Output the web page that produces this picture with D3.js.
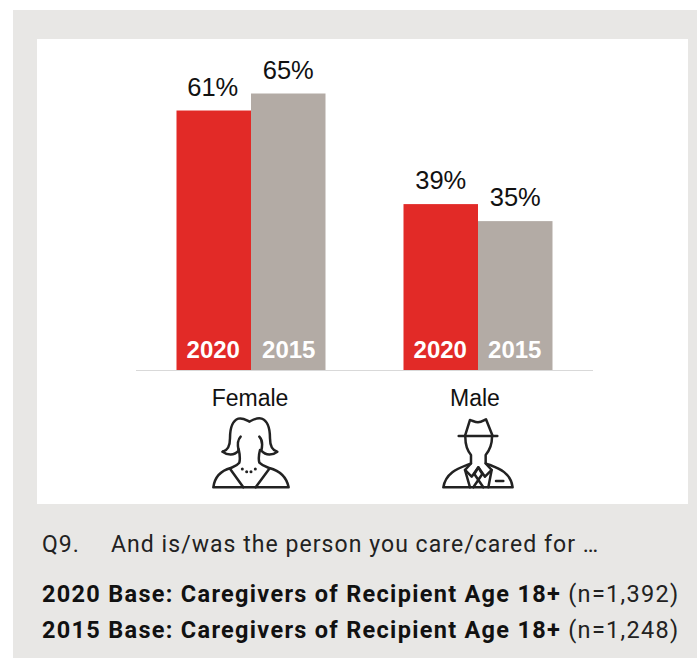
<!DOCTYPE html>
<html>
<head>
<meta charset="utf-8">
<script src="https://d3js.org/d3.v7.min.js"></script>
<style>
html, body { margin: 0; padding: 0; background: #fff; }
svg { display: block; }
.bar-label { font-family: "Liberation Sans", Arial, sans-serif; font-size: 25.5px; fill: #111; text-anchor: middle; }
.year-label { font-family: "Liberation Sans", Arial, sans-serif; font-size: 24px; font-weight: bold; fill: #fff; text-anchor: middle; }
.cat-label { font-family: "Liberation Sans", Arial, sans-serif; font-size: 23px; fill: #111; text-anchor: middle; }
.note { font-family: Roboto, sans-serif; font-size: 23px; fill: #222; letter-spacing: 1.05px; }
.base { font-family: Roboto, sans-serif; font-size: 23.5px; fill: #222; letter-spacing: 1.3px; }
.base tspan.b { font-weight: bold; fill: #111; }
.icon path { fill: none; stroke: #222; stroke-width: 7.5; stroke-linejoin: round; stroke-linecap: round; }
.icon circle { fill: #222; }
</style>
</head>
<body>
<div id="chart"></div>
<script>
// values
var categories = ["Female", "Male"];
var years = ["2020", "2015"];
var values2020 = [61, 39];
var values2015 = [65, 35];
var colors = ["#e22a27", "#b3aba5"];
var question = ["Q9.", "And is/was the person you care/cared for \u2026"];
var bases = [
  ["2020 Base: Caregivers of Recipient Age 18+", " (n=1,392)"],
  ["2015 Base: Caregivers of Recipient Age 18+", " (n=1,248)"]
];

var femaleIcon = [
  "M98,215 C112,212 120,200 120,175 C120,145 128,122 145,116 C158,112 168,120 178,125 C188,120 200,112 215,116 C232,122 240,145 240,175 C240,200 248,212 262,215 C248,226 228,228 214,212 C218,195 218,180 208,170",
  "M98,215 C112,226 132,228 146,212 C142,195 142,180 152,170",
  "M146,208 C150,225 150,240 148,248 C140,258 132,260 122,264 C92,272 74,292 70,322 L296,322 C290,292 268,272 238,264 C228,260 218,258 208,248 C206,240 206,225 210,210",
  "M120,266 L160,322",
  "M238,266 L197,322"
];
var femaleDots = [[157, 267], [170, 275], [183, 275], [196, 267]];
var maleIcon = [
  "M135,168 L150,120 C158,122 165,127 174,127 C183,127 190,122 198,118 L218,168",
  "M116,168 L232,168",
  "M136,172 C136,195 142,212 153,225 L153,250 C125,262 78,272 70,322 L278,322 C272,272 225,262 197,250 L197,225 C208,212 216,195 216,172",
  "M153,250 L135,270 L155,290 L175,262 L195,290 L215,270 L197,250",
  "M135,270 L150,322 M215,270 L205,322",
  "M163,282 L175,262 L187,282 L160,322 M163,282 L190,322",
  "M228,303 L250,303"
];
var maleDots = [];

var width = 697, height = 658;
var svg = d3.select("#chart").append("svg").attr("width", width).attr("height", height);

svg.append("rect").attr("x", 13).attr("y", 10).attr("width", width - 13).attr("height", height - 10).attr("fill", "#e8e7e5");
svg.append("rect").attr("x", 37).attr("y", 39).attr("width", 651).attr("height", 465).attr("fill", "#fff");

// scales
var baseY = 370;
var x0 = d3.scalePoint().domain(categories).range([251, 478]);
var barW = 74.5;
var y = d3.scaleLinear().domain([0, 65]).range([baseY, 93.5]);

var rows = [];
categories.forEach(function(c, i) {
  rows.push({cat: c, year: years[0], v: values2020[i], k: 0});
  rows.push({cat: c, year: years[1], v: values2015[i], k: 1});
});

var bars = svg.selectAll(".g-bar").data(rows).enter().append("g").attr("class", "g-bar");

bars.append("rect")
  .attr("x", function(d) { return x0(d.cat) - barW + d.k * barW; })
  .attr("y", function(d) { return y(d.v); })
  .attr("width", barW)
  .attr("height", function(d) { return baseY - y(d.v); })
  .attr("fill", function(d) { return colors[d.k]; });

bars.append("text").attr("class", "bar-label")
  .attr("x", function(d) { return x0(d.cat) - barW / 2 + d.k * barW - (d.k ? 0 : (d.cat == "Male" ? 0 : 1)); })
  .attr("y", function(d) { return y(d.v) - 15; })
  .text(function(d) { return d.v + "%"; });

bars.append("text").attr("class", "year-label")
  .attr("x", function(d) { return x0(d.cat) - barW / 2 + d.k * barW + (d.cat == "Female" && d.k ? 0.5 : -0.5); })
  .attr("y", 358)
  .text(function(d) { return d.year; });

svg.append("line").attr("x1", 136).attr("x2", 593).attr("y1", baseY + 0.5).attr("y2", baseY + 0.5)
  .attr("stroke", "#d9d9d9").attr("stroke-width", 1);

svg.selectAll(".cat-label").data(categories).enter().append("text").attr("class", "cat-label")
  .attr("x", function(d) { return x0(d) - (d == "Male" ? 3 : 1); })
  .attr("y", 406)
  .text(function(d) { return d; });

// icons, drawn in zoomed coords then scaled down
function drawIcon(dx, paths, dots) {
  var g = svg.append("g").attr("class", "icon").attr("transform", "translate(" + dx + ",380) scale(0.3333)");
  g.selectAll("path").data(paths).enter().append("path").attr("d", function(d) { return d; });
  g.selectAll("circle").data(dots).enter().append("circle")
    .attr("cx", function(d) { return d[0]; }).attr("cy", function(d) { return d[1]; }).attr("r", 4.5);
}
drawIcon(190, femaleIcon, femaleDots);
drawIcon(420, maleIcon, maleDots);

// notes under the panel
svg.append("text").attr("class", "note").attr("x", 42).attr("y", 552).text(question[0]);
svg.append("text").attr("class", "note").attr("x", 111).attr("y", 552).text(question[1]);

bases.forEach(function(b, i) {
  var t = svg.append("text").attr("class", "base").attr("x", 42).attr("y", 602 + i * 36);
  t.append("tspan").attr("class", "b").text(b[0]);
  t.append("tspan").text(b[1]);
});
</script>
</body>
</html>
